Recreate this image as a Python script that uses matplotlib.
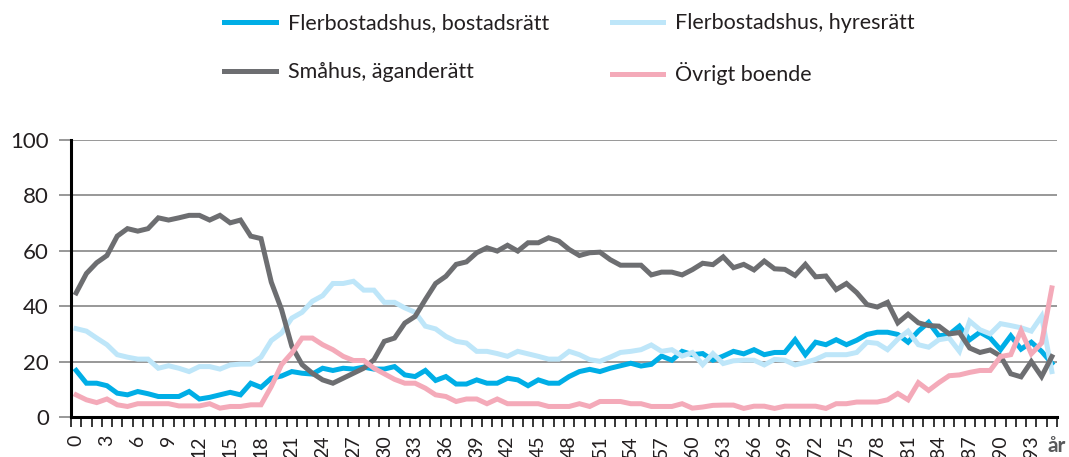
import matplotlib.pyplot as plt
import numpy as np

plt.rcParams['font.family'] = ['Lato', 'DejaVu Sans']

ages = np.arange(0, 96)

bostadsratt = [
    16.8, 12.2, 12.2, 11.3, 8.6, 8.0, 9.2, 8.4, 7.4, 7.4, 7.4, 9.2, 6.5, 7.1, 8.0, 8.9, 8.0, 12.2, 10.7, 14.0,
    14.8, 16.4, 15.8, 15.5, 17.6, 16.8, 17.6, 17.3,
    18.0, 17.3, 17.3, 18.2, 15.2, 14.6, 16.8, 13.2, 14.6, 11.9, 11.9, 13.4, 12.2, 12.2, 14.0, 13.4, 11.3, 13.4,
    12.2, 12.2,
    14.6, 16.4, 17.2, 16.4, 17.6, 18.5, 19.4, 18.4, 19.0, 22.0, 20.5, 23.7, 22.5, 22.9, 20.5,
    22.0, 23.7, 22.8, 24.3, 22.5, 23.3, 23.3, 27.9, 22.5, 27.0, 26.1, 27.9, 26.1, 27.7, 29.8, 30.6, 30.6,
    29.8, 27.0, 31.0, 34.2, 29.3, 29.8, 32.8, 27.9, 30.6, 28.5, 24.3, 29.3, 24.5, 27.0, 23.7, 19.4,
]

hyresratt = [
    31.9, 31.0, 28.5, 26.1, 22.5, 21.6, 20.9, 20.9, 17.6, 18.5, 17.6, 16.4, 18.2, 18.2, 17.3, 18.8, 19.1, 19.1,
    21.6, 27.6, 30.3, 35.7, 37.8, 41.8, 43.8, 48.2, 48.2, 49.0,
    45.8, 45.8, 41.4, 41.4, 39.4, 37.8, 32.8, 31.8, 29.1, 27.3, 26.7, 23.7, 23.7, 22.9, 21.9, 23.7, 22.8, 21.9,
    20.9, 20.9,
    23.7, 22.5, 20.7, 20.1, 21.6, 23.3, 23.7, 24.3, 26.0, 23.7, 24.3, 22.0, 23.3, 18.9, 22.9,
    19.3, 20.3, 20.5, 20.5, 18.8, 20.8, 20.5, 18.8, 19.7, 20.8, 22.5, 22.5, 22.5, 23.3, 27.0, 26.6, 24.3,
    28.1, 31.0, 26.1, 25.2, 27.9, 28.5, 23.7, 34.6, 31.5, 30.0, 33.7, 33.0, 32.2, 31.0, 36.4, 16.4,
]

smahus = [
    44.8, 51.8, 55.7, 58.3, 65.3, 68.0, 67.1, 68.0, 71.9, 71.1, 71.9, 72.8, 72.8, 71.1, 72.8, 70.1, 71.1, 65.3,
    64.4, 48.7, 38.8, 25.5, 18.9, 15.8, 13.4, 12.2, 14.0, 15.8,
    17.6, 20.7, 27.3, 28.5, 33.9, 36.3, 42.4, 48.2, 50.8, 55.1, 56.0, 59.3, 61.1, 59.9, 62.0, 59.9, 62.9, 62.9,
    64.7, 63.5,
    60.5, 58.3, 59.3, 59.5, 56.8, 54.8, 54.8, 54.8, 51.3, 52.3, 52.3, 51.3, 53.2, 55.5, 55.0,
    57.8, 53.9, 55.1, 53.1, 56.3, 53.5, 53.3, 51.1, 55.1, 50.6, 50.9, 46.0, 48.2, 44.9, 40.6, 39.7, 41.4,
    34.0, 37.1, 34.0, 33.0, 32.8, 30.0, 30.5, 24.9, 23.3, 24.2, 22.0, 15.6, 14.5, 20.0, 14.6, 21.8,
]

ovrigt = [
    8.0, 6.2, 5.2, 6.5, 4.4, 3.8, 4.8, 4.8, 4.8, 4.8, 4.0, 4.0, 4.0, 4.8, 3.2, 3.8, 3.8, 4.4, 4.4, 11.0,
    18.9, 23.1, 28.5, 28.5, 26.1, 24.3, 21.9, 20.4,
    20.4, 17.6, 15.6, 13.6, 12.2, 12.2, 10.4, 8.0, 7.4, 5.6, 6.5, 6.5, 4.8, 6.5, 4.8, 4.8, 4.8, 4.8, 3.8, 3.8,
    3.8, 4.8, 3.8, 5.6, 5.6, 5.6, 4.8, 4.8, 3.8, 3.8, 3.8, 4.8, 3.2, 3.6, 4.2,
    4.3, 4.3, 3.1, 3.9, 3.9, 3.1, 3.9, 3.9, 3.9, 3.9, 3.1, 4.8, 4.8, 5.4, 5.4, 5.4, 6.2,
    8.5, 6.2, 12.4, 9.6, 12.4, 14.9, 15.2, 16.1, 16.8, 16.8, 21.8, 22.5, 31.2, 22.8, 26.7, 46.6,
]

series = [
    ("Flerbostadshus, bostadsrätt", bostadsratt, "#00AEE6"),
    ("Flerbostadshus, hyresrätt", hyresratt, "#BEE6F9"),
    ("Småhus, äganderätt", smahus, "#6D6E71"),
    ("Övrigt boende", ovrigt, "#F4AAB9"),
]

fig = plt.figure(figsize=(10.69, 4.57), dpi=100)
ax = fig.add_axes([71 / 1069, 40 / 457, 986 / 1069, 277 / 457])

lines = {}
for name, vals, col in series:
    ln, = ax.plot(ages, vals, color=col, lw=3.6, solid_joinstyle='miter', clip_on=False, label=name)
    lines[name] = ln

ax.set_xlim(-0.5, 95.5)
ax.set_ylim(0, 100)
ax.set_yticks([0, 20, 40, 60, 80, 100])
ax.yaxis.grid(True, color='#868686', lw=1.2)
ax.set_axisbelow(True)

ax.set_xticks(np.arange(0, 94, 3))
ax.set_xticklabels([str(a) for a in range(0, 94, 3)], rotation=90)
ax.set_xticks(np.arange(-0.5, 96, 1), minor=True)
ax.tick_params(axis='x', which='major', length=0, pad=13, labelsize=14, labelcolor='#231F20')
ax.tick_params(axis='x', which='minor', length=7.5, width=1.1, color='black')
ax.tick_params(axis='y', length=9, width=1.2, color='#868686', pad=7, labelsize=16, labelcolor='#231F20')

for s in ['top', 'right']:
    ax.spines[s].set_visible(False)
for s in ['left', 'bottom']:
    ax.spines[s].set_color('black')
    ax.spines[s].set_linewidth(2.2)

fig.text(1047 / 1069, 1 - 446 / 457, "år", fontsize=15, fontweight='bold', color='#58595B', va='center')

order = ["Flerbostadshus, bostadsrätt", "Småhus, äganderätt", "Flerbostadshus, hyresrätt", "Övrigt boende"]
fig.legend([lines[n] for n in order], order, ncol=2, loc='upper left',
           bbox_to_anchor=(205 / 1069, 1 + 6 / 457), frameon=False,
           prop={'size': 15.5}, labelcolor='#231F20',
           handlelength=2.4, handletextpad=0.55, columnspacing=2.9, labelspacing=1.35)

fig.savefig("out.png", dpi=100)
